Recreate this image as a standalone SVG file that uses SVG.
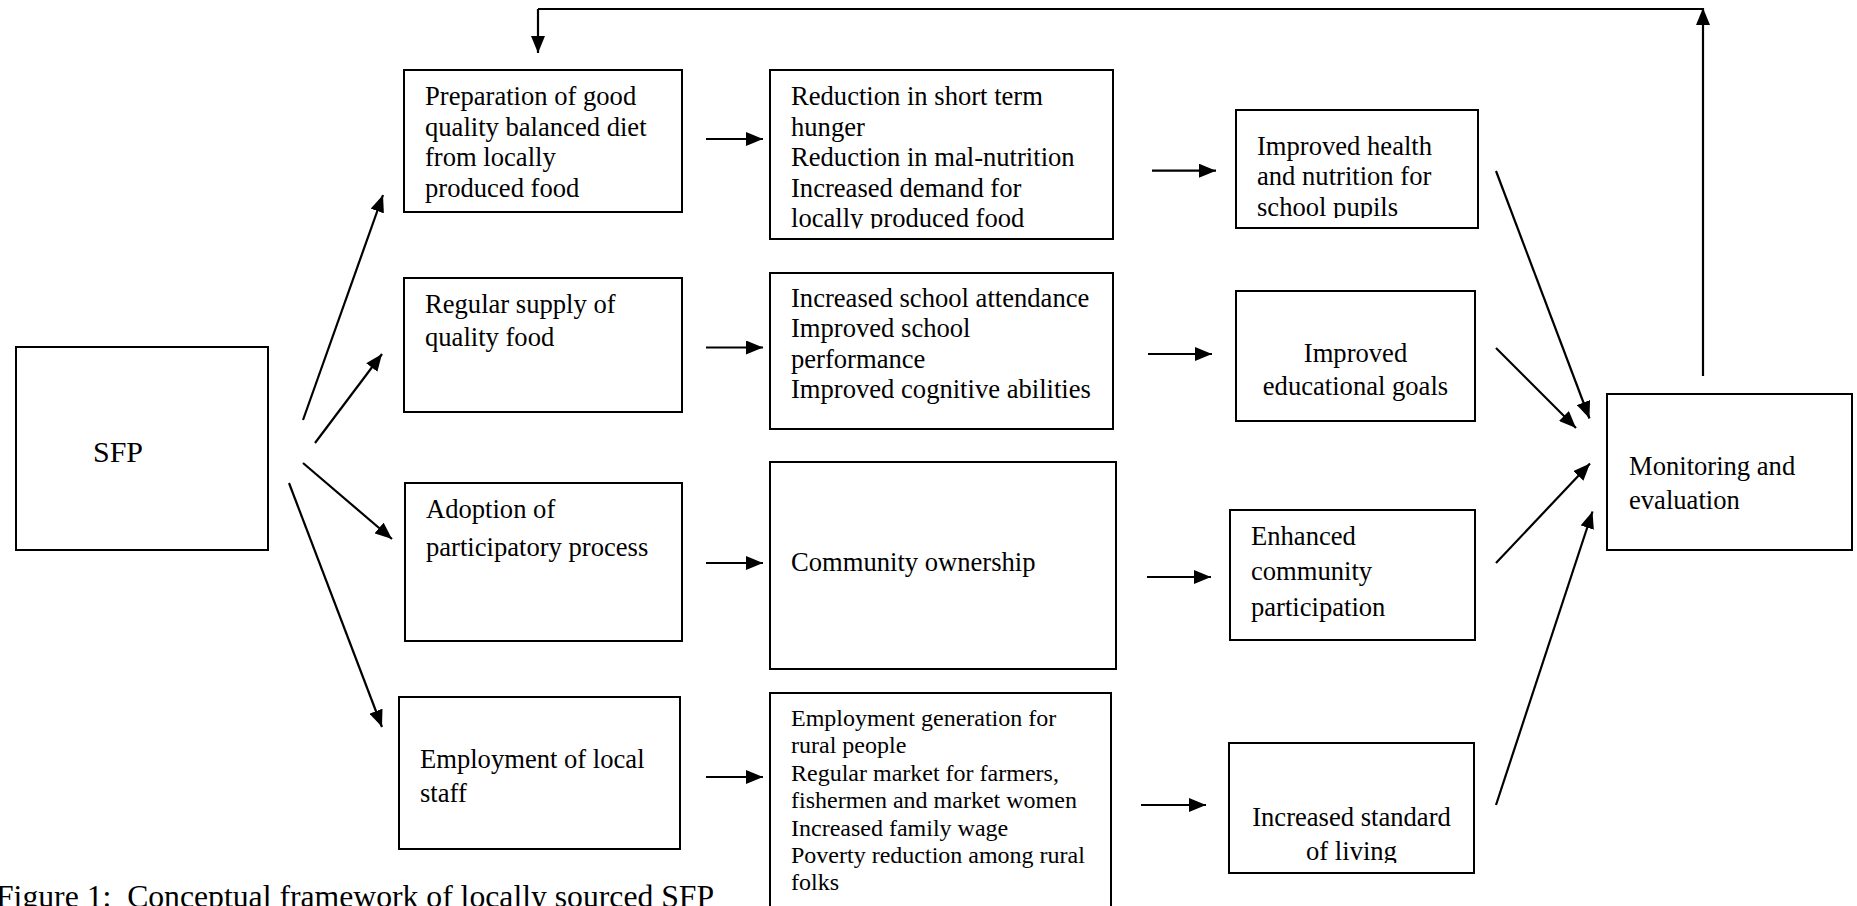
<svg xmlns="http://www.w3.org/2000/svg" width="1857" height="906" viewBox="0 0 1857 906">
  <style>
    .box { fill: #fff; stroke: #000; stroke-width: 2; }
    .t { font-family: "Liberation Serif", "Times New Roman", serif; font-size: 26.6px; fill: #000; }
    .s { font-size: 24px; }
    .mid { text-anchor: middle; }
    .cap { font-family: "Liberation Serif", "Times New Roman", serif; font-size: 31.7px; fill: #000; white-space: pre; }
    .conn line, .conn path { stroke: #000; stroke-width: 2.2; fill: none; }
    .conn .a { marker-end: url(#ah); }
  </style>
  <defs>
    <marker id="ah" markerUnits="userSpaceOnUse" markerWidth="17" markerHeight="14" refX="17" refY="7" orient="auto">
      <path d="M0,0 L17,7 L0,14 z" fill="#000"/>
    </marker>
    <clipPath id="clipR1"><rect x="770" y="70" width="343" height="158.5"/></clipPath>
    <clipPath id="clipH"><rect x="1236" y="110" width="242" height="108"/></clipPath>
    <clipPath id="clipL"><rect x="1229" y="743" width="245" height="120"/></clipPath>
  </defs>

  <g id="sfp">
    <rect class="box" x="16" y="347" width="252" height="203"/>
    <text class="t" x="93" y="462" style="font-size:30px">SFP</text>
  </g>

  <g id="prep">
    <rect class="box" x="404" y="70" width="278" height="142"/>
    <text class="t" x="425" y="105">Preparation of good</text>
    <text class="t" x="425" y="135.7">quality balanced diet</text>
    <text class="t" x="425" y="166.4">from locally</text>
    <text class="t" x="425" y="197">produced food</text>
  </g>

  <g id="supply">
    <rect class="box" x="404" y="278" width="278" height="134"/>
    <text class="t" x="425" y="313">Regular supply of</text>
    <text class="t" x="425" y="346">quality food</text>
  </g>

  <g id="adoption">
    <rect class="box" x="405" y="483" width="277" height="158"/>
    <text class="t" x="426" y="518">Adoption of</text>
    <text class="t" x="426" y="556">participatory process</text>
  </g>

  <g id="employment">
    <rect class="box" x="399" y="697" width="281" height="152"/>
    <text class="t" x="420" y="768">Employment of local</text>
    <text class="t" x="420" y="802">staff</text>
  </g>

  <g id="reduction">
    <rect class="box" x="770" y="70" width="343" height="169"/>
    <g clip-path="url(#clipR1)">
      <text class="t" x="791" y="105">Reduction in short term</text>
      <text class="t" x="791" y="135.5">hunger</text>
      <text class="t" x="791" y="166">Reduction in mal-nutrition</text>
      <text class="t" x="791" y="196.5">Increased demand for</text>
      <text class="t" x="791" y="227">locally produced food</text>
    </g>
  </g>

  <g id="attendance">
    <rect class="box" x="770" y="273" width="343" height="156"/>
    <text class="t" x="791" y="306.5">Increased school attendance</text>
    <text class="t" x="791" y="337">Improved school</text>
    <text class="t" x="791" y="367.5">performance</text>
    <text class="t" x="791" y="398">Improved cognitive abilities</text>
  </g>

  <g id="ownership">
    <rect class="box" x="770" y="462" width="346" height="207"/>
    <text class="t" x="791" y="570.7">Community ownership</text>
  </g>

  <g id="generation">
    <rect class="box" x="770" y="693" width="341" height="230"/>
    <text class="t s" x="791" y="726">Employment generation for</text>
    <text class="t s" x="791" y="753.3">rural people</text>
    <text class="t s" x="791" y="781">Regular market for farmers,</text>
    <text class="t s" x="791" y="808.3">fishermen and market women</text>
    <text class="t s" x="791" y="835.7">Increased family wage</text>
    <text class="t s" x="791" y="863.3">Poverty reduction among rural</text>
    <text class="t s" x="791" y="890">folks</text>
  </g>

  <g id="health">
    <rect class="box" x="1236" y="110" width="242" height="118"/>
    <g clip-path="url(#clipH)">
      <text class="t" x="1257" y="155">Improved health</text>
      <text class="t" x="1257" y="185">and nutrition for</text>
      <text class="t" x="1257" y="215.5">school pupils</text>
    </g>
  </g>

  <g id="educational">
    <rect class="box" x="1236" y="291" width="239" height="130"/>
    <text class="t mid" x="1355.5" y="361.7">Improved</text>
    <text class="t mid" x="1355.5" y="395">educational goals</text>
  </g>

  <g id="participation">
    <rect class="box" x="1230" y="510" width="245" height="130"/>
    <text class="t" x="1251" y="545">Enhanced</text>
    <text class="t" x="1251" y="580">community</text>
    <text class="t" x="1251" y="615.7">participation</text>
  </g>

  <g id="standard">
    <rect class="box" x="1229" y="743" width="245" height="130"/>
    <g clip-path="url(#clipL)">
      <text class="t mid" x="1351.5" y="825.7">Increased standard</text>
      <text class="t mid" x="1351.5" y="860">of living</text>
    </g>
  </g>

  <g id="monitoring">
    <rect class="box" x="1607" y="394" width="245" height="156"/>
    <text class="t" x="1629" y="475">Monitoring and</text>
    <text class="t" x="1629" y="509">evaluation</text>
  </g>

  <g id="connectors" class="conn">
    <line class="a" x1="303" y1="420" x2="383" y2="195"/>
    <line class="a" x1="315" y1="443" x2="382" y2="354"/>
    <line class="a" x1="303" y1="463" x2="392" y2="539"/>
    <line class="a" x1="289" y1="483" x2="382" y2="727"/>

    <line class="a" x1="706" y1="139" x2="763" y2="139"/>
    <line class="a" x1="706" y1="347.5" x2="763" y2="347.5"/>
    <line class="a" x1="706" y1="563" x2="763" y2="563"/>
    <line class="a" x1="706" y1="777" x2="763" y2="777"/>

    <line class="a" x1="1152" y1="170.7" x2="1216" y2="170.7"/>
    <line class="a" x1="1148" y1="354" x2="1212" y2="354"/>
    <line class="a" x1="1147" y1="577" x2="1211" y2="577"/>
    <line class="a" x1="1141" y1="805" x2="1206" y2="805"/>

    <line class="a" x1="1496" y1="171" x2="1589.5" y2="418.5"/>
    <line class="a" x1="1496" y1="348" x2="1576" y2="428"/>
    <line class="a" x1="1496" y1="563" x2="1590" y2="463.5"/>
    <line class="a" x1="1496" y1="805" x2="1592.5" y2="511.5"/>

    <line class="a" x1="1703" y1="376" x2="1703" y2="8"/>
    <line x1="538" y1="9" x2="1703" y2="9"/>
    <line class="a" x1="538" y1="9" x2="538" y2="53"/>
  </g>

  <text class="cap" x="-4" y="907" xml:space="preserve">Figure 1:  Conceptual framework of locally sourced SFP</text>
</svg>
